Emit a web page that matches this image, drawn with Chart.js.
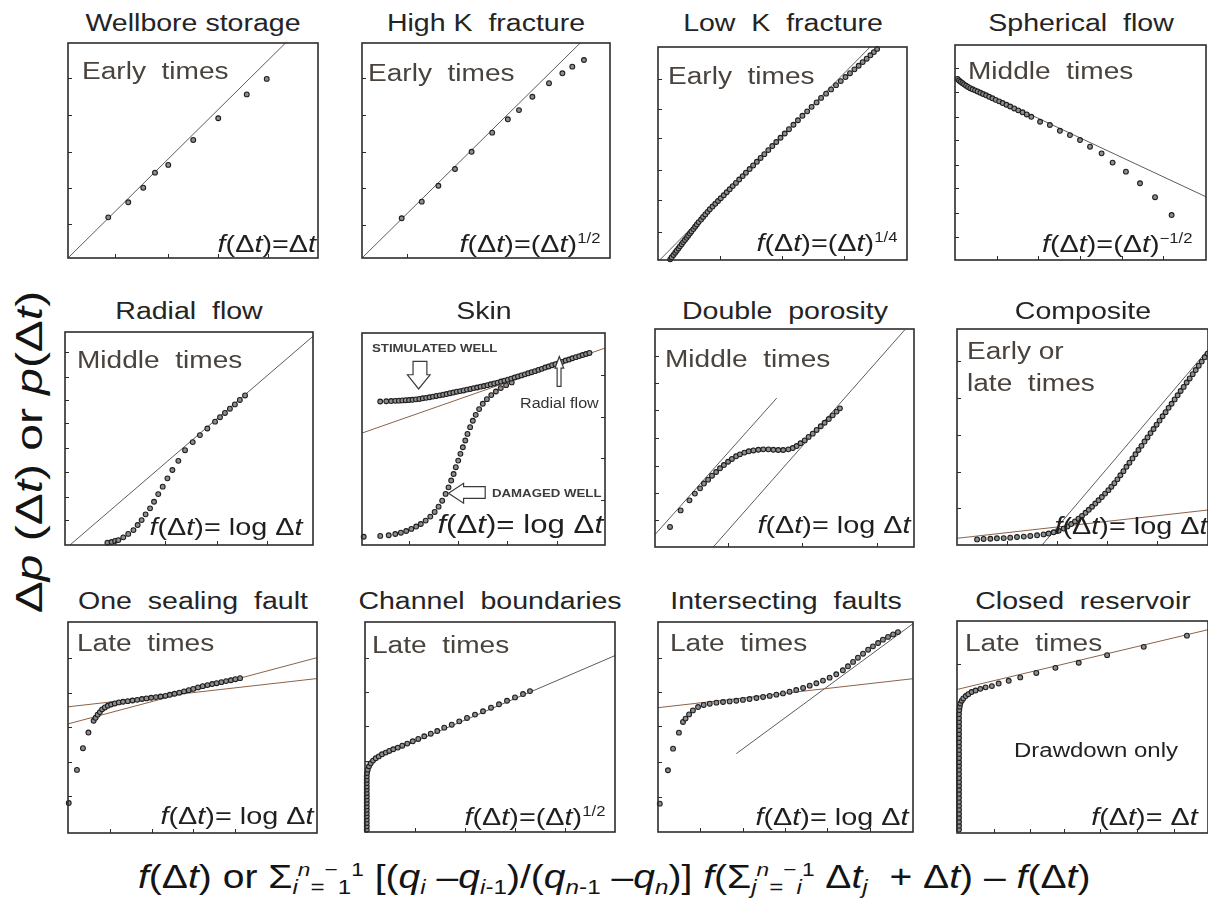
<!DOCTYPE html>
<html>
<head>
<meta charset="utf-8">
<title>Diagnostic plots of pressure transient flow regimes</title>
<script src="https://cdn.jsdelivr.net/npm/chart.js@4.4.1/dist/chart.umd.min.js"></script>
<style>
  html, body { margin: 0; padding: 0; background: #fff; }
  #fig { position: relative; width: 1208px; height: 903px; overflow: hidden; background: #fff;
         font-family: "Liberation Sans", Arial, Helvetica, sans-serif; }
  .plot { position: absolute; }
  .plot canvas { display: block; }
  .t { position: absolute; white-space: pre; line-height: 1; color: #262626; }
  .sup { font-size: .58em; position: relative; top: -.62em; }
  .sub { font-size: .62em; position: relative; top: .3em; }
</style>
</head>
<body>
<div id="fig"></div>
<script>
// All values are in percent of each small plot's axis range (0..100 on both axes).

// Wellbore storage, f(Δt)=Δt
const storagePts = [[16.1,18.9],[24.1,25.9],[30.1,32.7],[34.8,39.7],[40.1,43.3],[50.1,54.9],[60.1,65.0],[71.5,76.1],[79.5,83.3]];
const storageLine = [[0,0],[87,100]];
const storageTicksX = [18.8,40.1,60.1,80.1];
const storageTicksY = [15.8,32.7,49.4,66.5,83.6];

// High K fracture, f(Δt)=(Δt)^1/2
const highKPts = [[16.0,18.5],[24.1,26.2],[30.8,33.6],[37.5,41.4],[44.2,49.4],[52.5,58.3],[58.8,64.5],[63.3,68.8],[68.7,75.0],[75.4,81.3],[80.8,85.9],[84.8,89.0],[89.5,92.1]];
const highKLine = [[0,0],[88,100]];
const highKTicksX = [18.3];
const highKTicksY = [15.3,32.4,49.4,66.5,83.6];

// Low K fracture, f(Δt)=(Δt)^1/4
const lowKPts = [[4.9,0.3],[5.5,1.3],[6.2,2.4],[6.9,3.4],[7.5,4.4],[8.2,5.4],[8.8,6.4],[9.5,7.4],[10.1,8.4],[10.8,9.4],[11.5,10.4],[12.1,11.4],[12.8,12.4],[13.4,13.4],[14.2,14.5],[14.9,15.6],[15.6,16.7],[16.3,17.8],[17.3,19.0],[18.1,20.2],[19.0,21.4],[19.9,22.6],[20.8,23.8],[21.9,25.1],[23.0,26.4],[24.1,27.7],[25.2,29.0],[26.4,30.4],[27.6,31.8],[28.8,33.2],[30.0,34.7],[31.3,36.2],[32.6,37.8],[34.0,39.4],[35.3,41.0],[36.8,42.7],[38.2,44.4],[39.7,46.1],[41.2,47.9],[42.7,49.7],[44.3,51.6],[45.9,53.5],[47.5,55.4],[49.2,57.4],[50.9,59.4],[52.6,61.4],[54.4,63.5],[56.2,65.6],[58.0,67.7],[59.9,69.8],[61.7,71.9],[63.7,74.0],[65.5,76.1],[67.5,78.1],[69.5,80.1],[71.5,82.1],[73.4,84.0],[75.3,85.9],[77.1,87.7],[78.9,89.5],[80.6,91.2],[82.2,92.9],[83.8,94.5],[85.3,96.1],[86.7,97.6],[88.0,99.1]];
const lowKLine = [[0.7,0],[85.2,100]];
const lowKTicksX = [24.8,49.7,74.5];
const lowKTicksY = [13.3,28.1,42.2,57.1,71.1,85.2];

// Spherical flow, f(Δt)=(Δt)^-1/2
const sphericalPts = [[1.0,84.2],[1.6,83.5],[2.2,82.9],[2.9,82.3],[3.6,81.7],[4.4,81.1],[5.2,80.5],[6.1,79.9],[7.0,79.4],[8.0,78.9],[9.0,78.4],[10.1,77.8],[11.2,77.2],[12.4,76.6],[13.6,75.9],[14.9,75.2],[16.2,74.5],[17.6,73.8],[19.0,73.0],[20.5,72.2],[22.0,71.4],[23.6,70.5],[25.2,69.6],[26.9,68.7],[28.6,67.7],[30.4,66.6],[33.9,64.3],[37.8,62.8],[41.8,60.1],[45.8,58.1],[49.8,55.8],[53.8,52.7],[58.4,49.6],[62.8,45.3],[68.1,41.1],[73.7,35.7],[79.7,29.2],[86.3,20.9]];
const sphericalLine = [[0,84],[100,29.4]];
const sphericalTicksX = [16.6,33.2,49.8,66.4,83.0];
const sphericalTicksY = [10.8,21.7,33.3,44.2,55.8,66.7,78.3,89.2];

// Radial flow, f(Δt)=log Δt
const radialPts = [[17.1,1.1],[18.8,1.4],[20.2,1.9],[21.5,2.3],[23.5,3.6],[25.5,5.2],[27.6,7.0],[29.3,9.4],[30.9,11.7],[32.5,14.4],[34.3,17.2],[35.9,20.3],[37.6,23.9],[39.4,27.4],[41.3,31.3],[43.3,35.2],[45.7,39.5],[48.4,44.5],[51.5,48.3],[54.4,51.6],[57.4,54.7],[60.5,57.9],[62.5,60.0],[64.5,62.0],[66.5,64.0],[68.5,66.0],[70.5,68.1],[72.6,70.2]];
const radialLine = [[2,0],[100,98]];
const radialTicksX = [20.2,40.3,61.2,81.3];
const radialTicksY = [11.7,22.7,34.4,45.4,57.1,68.1,79.0,90.8];

// Skin: stimulated and damaged wells, f(Δt)=log Δt
const stimulatedPts = [[7.5,67.7],[10.0,67.8],[12.0,67.9],[13.7,68.0],[15.2,68.1],[16.6,68.2],[18.0,68.3],[19.4,68.4],[20.8,68.5],[22.2,68.7],[23.6,68.9],[25.0,69.2],[26.4,69.4],[27.8,69.7],[29.2,70.0],[30.6,70.3],[32.0,70.6],[33.4,70.9],[34.8,71.2],[36.2,71.6],[37.6,71.9],[39.0,72.3],[40.4,72.6],[41.8,72.9],[43.2,73.3],[44.6,73.6],[46.0,74.0],[47.4,74.3],[48.8,74.7],[50.2,75.0],[51.6,75.4],[53.0,75.8],[54.4,76.2],[55.8,76.6],[57.2,77.1],[58.6,77.5],[60.0,78.0],[61.4,78.5],[62.8,79.0],[64.2,79.5],[65.6,80.0],[67.0,80.5],[68.4,81.0],[69.8,81.5],[71.2,82.0],[72.6,82.6],[74.0,83.1],[75.4,83.7],[76.8,84.2],[78.2,84.8],[79.6,85.3],[81.0,85.9],[82.4,86.4],[83.8,87.0],[85.2,87.5],[86.6,88.1],[88.0,88.6],[89.4,89.1],[90.8,89.6],[92.2,90.1],[93.6,90.6]];
const damagedPts = [[0.7,3.9],[7.5,4.3],[11.0,4.6],[13.7,5.2],[16.0,5.8],[18.2,6.6],[20.3,7.6],[22.3,8.7],[24.2,9.9],[26.2,11.5],[28.1,13.4],[29.9,15.6],[31.5,18.1],[33.0,20.9],[34.4,24.1],[35.6,27.2],[36.7,30.4],[37.7,33.5],[38.6,36.7],[39.6,39.8],[40.5,43.0],[41.5,46.1],[42.5,49.3],[43.4,52.4],[44.5,55.6],[45.6,58.6],[46.8,61.4],[48.2,64.1],[49.7,66.6],[51.4,68.8],[53.2,70.7],[55.1,72.4],[57.1,74.0],[59.3,75.4],[61.6,76.7]];
const skinLine = [[0,52.8],[100,92.9]];
const skinTicksX = [19.2,39.7,59.6,80.1];
const skinTicksY = [21.3,41.0,60.6,80.3];

// Double porosity, f(Δt)=log Δt
const dualPts = [[5.8,9.2],[9.9,16.8],[13.3,21.4],[15.4,24.5],[17.4,26.9],[18.9,29.1],[20.5,30.9],[22.0,32.7],[23.6,34.4],[25.1,36.1],[26.6,37.6],[28.2,39.1],[29.7,40.4],[31.3,41.6],[32.8,42.5],[34.5,43.3],[36.2,43.9],[38.0,44.3],[39.9,44.6],[41.8,44.8],[43.8,44.8],[45.7,44.6],[47.6,44.5],[49.5,44.5],[51.5,44.8],[53.2,45.4],[54.7,46.3],[56.2,47.6],[57.8,48.9],[59.3,50.5],[60.9,52.0],[62.4,53.7],[64.0,55.4],[65.5,57.0],[67.1,58.7],[68.6,60.4],[70.1,62.1],[71.4,63.6]];
const dualLineEarly = [[0,5.7],[47.0,68.3]];
const dualLineLate = [[22.5,0],[96.5,99.7]];
const dualTicksX = [28.3,56.6,85.6];
const dualTicksY = [12.5,24.9,37.3,49.9,62.8,75.1,87.4];

// Composite reservoir, f(Δt)=log Δt
const compositePts = [[8.0,2.6],[10.6,2.8],[13.3,2.9],[15.9,3.1],[18.6,3.2],[21.2,3.4],[23.9,3.7],[26.6,3.9],[29.2,4.2],[31.9,4.5],[34.5,4.9],[36.5,5.3],[38.5,5.9],[40.5,6.6],[42.5,7.6],[44.0,8.6],[45.5,9.7],[47.0,10.9],[48.4,12.2],[49.8,13.5],[51.2,14.9],[52.5,16.3],[53.8,17.7],[55.1,19.2],[56.4,20.7],[57.7,22.2],[59.0,23.8],[60.3,25.4],[61.5,27.0],[62.7,28.6],[63.9,30.4],[65.1,32.3],[66.3,34.2],[67.5,36.2],[68.7,38.1],[69.9,40.1],[71.1,42.0],[72.3,44.0],[73.5,45.9],[74.7,47.9],[75.9,49.8],[77.1,51.8],[78.3,53.7],[79.5,55.7],[80.7,57.6],[81.9,59.6],[83.1,61.5],[84.3,63.5],[85.5,65.4],[86.7,67.4],[87.9,69.3],[89.1,71.3],[90.3,73.2],[91.5,75.2],[92.7,77.1],[93.9,79.1],[95.1,81.0],[96.3,83.0],[97.5,84.9],[98.7,86.9],[99.8,88.6]];
const compositeLineInner = [[0,3.1],[100,16.2]];
const compositeLineOuter = [[33.9,0],[100,90.4]];
const compositeTicksX = [19.9,39.8,59.8,79.7];
const compositeTicksY = [17,34,51,68,85];

// One sealing fault, f(Δt)=log Δt
const faultPts = [[0.3,14.2],[3.6,29.9],[6.0,40.2],[8.2,47.6],[10.3,53.2],[11.1,54.6],[11.9,56.1],[12.8,57.3],[13.7,58.6],[14.8,59.5],[16.0,60.3],[17.3,60.9],[18.8,61.4],[20.4,61.9],[22.1,62.2],[24.0,62.5],[25.9,62.8],[27.8,63.1],[29.7,63.5],[31.5,63.8],[33.4,64.1],[35.3,64.4],[37.2,64.7],[39.1,65.0],[40.9,65.5],[42.8,66.0],[44.7,66.5],[46.6,67.1],[48.5,67.7],[50.3,68.3],[52.2,69.0],[54.1,69.6],[56.0,70.1],[57.9,70.6],[59.7,71.0],[61.6,71.5],[63.5,72.0],[65.4,72.4],[67.2,72.9],[69.1,73.4]];
const faultLineA = [[0,59.8],[100,73.2]];
const faultLineB = [[0,51.7],[100,83.1]];
const faultTicksX = [16.8,33.6,50.3,67.1];
const faultTicksY = [17.3,33.5,50.4,66.5,83.1];

// Channel boundaries, f(Δt)=(Δt)^1/2
const channelPts = [[0.7,1.1],[0.7,2.7],[0.7,4.3],[0.7,5.9],[0.7,7.5],[0.7,9.0],[0.7,10.6],[0.7,12.2],[0.7,13.8],[0.7,15.4],[0.7,17.0],[0.7,18.6],[0.7,20.2],[0.7,21.7],[0.7,23.3],[0.7,24.9],[0.7,26.5],[0.8,28.1],[1.1,29.7],[1.6,31.3],[2.3,32.7],[3.2,34.0],[4.3,35.1],[5.5,36.0],[6.8,37.0],[8.3,37.8],[9.7,38.6],[11.3,39.4],[13.1,40.2],[14.9,41.1],[16.9,42.1],[19.1,43.2],[21.3,44.3],[23.7,45.6],[26.3,46.8],[28.9,48.1],[31.7,49.7],[34.7,51.1],[37.7,52.7],[40.8,54.3],[44.0,55.9],[47.2,57.5],[50.4,59.2],[53.6,60.8],[56.8,62.5],[60.0,64.1],[63.2,65.7],[66.0,67.1]];
const channelLine = [[0.7,33.2],[100,84.0]];
const channelTicksX = [20,40,60,80];
const channelTicksY = [33.8,50.3,66.7,83.0];

// Intersecting faults, f(Δt)=log Δt
const interPts = [[0.7,13.5],[3.9,29.4],[5.9,39.7],[8.2,47.3],[9.8,52.4],[10.8,54.0],[12.2,56.0],[13.7,57.9],[15.7,59.5],[17.9,60.5],[20.3,61.1],[22.9,61.6],[25.5,61.9],[28.1,62.2],[30.7,62.5],[33.3,62.9],[35.9,63.3],[38.6,63.8],[41.2,64.3],[43.8,64.8],[46.4,65.4],[49.0,66.0],[51.6,66.8],[54.2,67.6],[56.9,68.6],[59.5,69.7],[62.1,70.8],[64.7,72.1],[67.3,73.5],[69.9,75.1],[72.5,77.0],[74.5,78.9],[76.5,81.0],[78.4,83.0],[80.4,84.9],[82.4,86.8],[84.3,88.4],[86.3,90.0],[88.2,91.6],[90.2,92.9],[92.2,94.1],[94.1,95.2]];
const interLineA = [[0,59.2],[100,73.0]];
const interLineB = [[30.7,37.3],[100,99.2]];
const interTicksX = [16.4,33.4,49.7,66.1,83.0];
const interTicksY = [16.7,33.3,50.5,66.7,83.0];

// Closed reservoir (drawdown only), f(Δt)=Δt
const closedPts = [[0.8,1.6],[0.8,3.4],[0.8,5.3],[0.8,7.2],[0.8,9.1],[0.8,11.0],[0.8,12.9],[0.8,14.7],[0.8,16.6],[0.8,18.5],[0.8,20.4],[0.8,22.3],[0.8,24.1],[0.8,26.0],[0.8,27.9],[0.8,29.8],[0.8,31.7],[0.8,33.5],[0.8,35.4],[0.8,37.3],[0.8,39.2],[0.8,41.1],[0.8,42.9],[0.8,44.8],[0.8,46.7],[0.8,48.6],[0.8,50.5],[0.8,52.4],[0.8,54.2],[0.8,56.1],[0.9,58.0],[1.1,59.6],[1.3,61.1],[1.9,62.4],[2.5,63.5],[3.5,64.6],[4.5,65.5],[5.8,66.5],[7.4,67.2],[9.3,68.0],[11.4,68.7],[13.9,69.3],[16.6,70.5],[20.6,71.8],[25.2,73.4],[31.6,75.5],[39.2,77.9],[48.5,80.3],[59.8,83.9],[74.4,87.8],[91.6,93.1]];
const closedLine = [[0,67.7],[100,95.9]];
const closedTicksX = [14.6,29.2,42.5,57.1,71.7,86.3];
const closedTicksY = [79.6];

// ---------------------------------------------------------------------------
const FIG_W = 1208;
const GRAY = '#5c5c5c', BROWN = '#8d6247';
const F_EQ = '<i>f</i>(Δ<i>t</i>)=';
const LOG_EQ = '<i>f</i>(Δ<i>t</i>)= log Δ<i>t</i>';
const sup = s => `<span class="sup">${s}</span>`;
const sub = s => `<span class="sub">${s}</span>`;

const panels = [
  { title: 'Wellbore storage', box: [68, 43, 250, 215], note: ['Early  times'], noteAt: [14, 20],
    eq: F_EQ + 'Δ<i>t</i>', eqAt: [1.5, 6], pts: [storagePts], lines: [[storageLine, GRAY]],
    tx: storageTicksX, ty: storageTicksY },
  { title: 'High K  fracture', box: [362, 43, 248, 215], note: ['Early  times'], noteAt: [6, 22],
    eq: F_EQ + '(Δ<i>t</i>)' + sup('1/2'), eqAt: [10, 6], pts: [highKPts], lines: [[highKLine, GRAY]],
    tx: highKTicksX, ty: highKTicksY },
  { title: 'Low  K  fracture', box: [658, 47, 249, 213], note: ['Early  times'], noteAt: [10, 21],
    eq: F_EQ + '(Δ<i>t</i>)' + sup('1/4'), eqAt: [10, 9], pts: [lowKPts], lines: [[lowKLine, GRAY]],
    tx: lowKTicksX, ty: lowKTicksY },
  { title: 'Spherical  flow', box: [955, 45, 251, 215], note: ['Middle  times'], noteAt: [13, 18],
    eq: F_EQ + '(Δ<i>t</i>)' + sup('−1/2'), eqAt: [13, 8], pts: [sphericalPts], lines: [[sphericalLine, GRAY]],
    tx: sphericalTicksX, ty: sphericalTicksY },
  { title: 'Radial  flow', box: [65, 332, 248, 213], note: ['Middle  times'], noteAt: [12, 20],
    eq: LOG_EQ, eqAt: [11, 10], pts: [radialPts], lines: [[radialLine, GRAY]],
    tx: radialTicksX, ty: radialTicksY },
  { title: 'Skin', box: [362, 333, 243, 212], note: [], noteAt: [0, 0],
    eq: LOG_EQ, eqAt: [2, 12], eqSize: 26, pts: [stimulatedPts, damagedPts], lines: [[skinLine, BROWN]],
    tx: skinTicksX, ty: skinTicksY, tickRight: true, skin: true },
  { title: 'Double  porosity', box: [655, 329, 259, 218], note: ['Middle  times'], noteAt: [10, 22],
    eq: LOG_EQ, eqAt: [4, 14], pts: [dualPts], lines: [[dualLineEarly, GRAY], [dualLineLate, GRAY]],
    tx: dualTicksX, ty: dualTicksY },
  { title: 'Composite', box: [957, 329, 251, 216], note: ['Early or', 'late  times'], noteAt: [10, 14],
    eq: LOG_EQ, eqAt: [1, 11], pts: [compositePts], lines: [[compositeLineInner, BROWN], [compositeLineOuter, GRAY]],
    tx: compositeTicksX, ty: compositeTicksY },
  { title: 'One  sealing  fault', box: [68, 622, 249, 211], note: ['Late  times'], noteAt: [9, 13],
    eq: LOG_EQ, eqAt: [4, 9], pts: [faultPts], lines: [[faultLineA, BROWN], [faultLineB, BROWN]],
    tx: faultTicksX, ty: faultTicksY },
  { title: 'Channel  boundaries', box: [365, 622, 250, 210], note: ['Late  times'], noteAt: [7, 15],
    eq: F_EQ + '(Δ<i>t</i>)' + sup('1/2'), eqAt: [10, 7], pts: [channelPts], lines: [[channelLine, GRAY]],
    tx: channelTicksX, ty: channelTicksY },
  { title: 'Intersecting  faults', box: [658, 622, 255, 210], note: ['Late  times'], noteAt: [12, 13],
    eq: LOG_EQ, eqAt: [5, 7], pts: [interPts], lines: [[interLineA, BROWN], [interLineB, GRAY]],
    tx: interTicksX, ty: interTicksY },
  { title: 'Closed  reservoir', box: [957, 621, 251, 212], note: ['Late  times'], noteAt: [8, 14],
    eq: '<i>f</i>(Δ<i>t</i>)= Δ<i>t</i>', eqAt: [10, 8], pts: [closedPts], lines: [[closedLine, BROWN]],
    tx: closedTicksX, ty: closedTicksY, closed: true }
];

// Hollow block arrows of the skin plot, in the same percent units as the data
const skinArrows = [
  [[21.0,86.6],[26.7,86.6],[26.7,80.3],[28.0,80.3],[23.3,73.6],[18.7,80.3],[21.0,80.3]],
  [[81.2,88.9],[83.0,83.4],[81.9,83.4],[81.9,74.8],[80.3,74.8],[80.3,83.4],[79.4,83.4]],
  [[35.6,24.4],[41.8,29.1],[41.8,27.5],[50.7,27.5],[50.7,22.0],[41.8,22.0],[41.8,19.7]]
];

const fig = document.getElementById('fig');

function addText(html, o) {
  const el = document.createElement('div');
  el.className = 't';
  el.innerHTML = html;
  el.style.fontSize = o.size + 'px';
  if (o.color) el.style.color = o.color;
  if (o.bold) el.style.fontWeight = 'bold';
  const sx = o.scale || 1;
  el.style.top = (o.baseline - 0.85 * o.size) + 'px';
  if (o.align === 'center') {
    el.style.left = o.x + 'px';
    el.style.transformOrigin = '50% 50%';
    el.style.transform = `translateX(-50%) scaleX(${sx})`;
  } else if (o.align === 'right') {
    el.style.right = (FIG_W - o.x) + 'px';
    el.style.transformOrigin = '100% 50%';
    el.style.transform = `scaleX(${sx})`;
  } else {
    el.style.left = o.x + 'px';
    el.style.transformOrigin = '0 50%';
    el.style.transform = `scaleX(${sx})`;
  }
  fig.appendChild(el);
  return el;
}

const asXY = pts => pts.map(([x, y]) => ({ x, y }));

function makePanel(p, idx) {
  const [L, T, W, H] = p.box;
  const pad = 4;
  const wrap = document.createElement('div');
  wrap.className = 'plot';
  wrap.style.left = (L - pad) + 'px';
  wrap.style.top = (T - pad) + 'px';
  const cv = document.createElement('canvas');
  cv.width = W + 2 * pad;
  cv.height = H + 2 * pad;
  wrap.appendChild(cv);
  fig.appendChild(wrap);

  const datasets = [];
  p.pts.forEach(pts => datasets.push({
    data: asXY(pts), showLine: false, order: 0, clip: 3,
    pointRadius: 2.4, pointHoverRadius: 2.4, pointBorderWidth: 1.1,
    pointBorderColor: '#1e1e1e', pointBackgroundColor: '#8e8e8e'
  }));
  p.lines.forEach(([pts, color]) => datasets.push({
    data: asXY(pts), showLine: true, order: 1, clip: 0, tension: 0,
    borderColor: color, borderWidth: 1, pointRadius: 0, pointHoverRadius: 0
  }));

  const frame = {
    id: 'frame' + idx,
    afterDatasetsDraw(chart) {
      const { ctx, chartArea: a, scales: { x, y } } = chart;
      ctx.save();
      ctx.strokeStyle = '#2c2c2c';
      ctx.lineWidth = 1.6;
      ctx.strokeRect(a.left, a.top, a.width, a.height);
      ctx.lineWidth = 1;
      ctx.beginPath();
      p.ty.forEach(v => {
        const py = Math.round(y.getPixelForValue(v)) + 0.5;
        if (p.tickRight) { ctx.moveTo(a.right, py); ctx.lineTo(a.right - 4, py); }
        else { ctx.moveTo(a.left, py); ctx.lineTo(a.left + 4, py); }
      });
      p.tx.forEach(v => {
        const px = Math.round(x.getPixelForValue(v)) + 0.5;
        ctx.moveTo(px, a.bottom); ctx.lineTo(px, a.bottom - 4);
      });
      ctx.stroke();
      if (p.skin) {
        ctx.lineWidth = 1.2;
        ctx.strokeStyle = '#3a3a3a';
        ctx.fillStyle = '#ffffff';
        skinArrows.forEach(poly => {
          ctx.beginPath();
          poly.forEach(([vx, vy], i) => {
            const px = x.getPixelForValue(vx), py = y.getPixelForValue(vy);
            i ? ctx.lineTo(px, py) : ctx.moveTo(px, py);
          });
          ctx.closePath();
          ctx.fill();
          ctx.stroke();
        });
      }
      ctx.restore();
    }
  };

  new Chart(cv, {
    type: 'scatter',
    data: { datasets },
    options: {
      responsive: false,
      animation: false,
      events: [],
      layout: { padding: pad },
      plugins: { legend: { display: false }, tooltip: { enabled: false } },
      scales: {
        x: { type: 'linear', min: 0, max: 100, display: false },
        y: { type: 'linear', min: 0, max: 100, display: false }
      }
    },
    plugins: [frame]
  });

  // title above the frame
  const rowBase = T < 100 ? 31.7 : (T < 400 ? 320 : 610);
  addText(p.title, { size: 23, x: L + W / 2, baseline: rowBase, align: 'center', scale: 1.24, color: '#242424' });

  // regime note in the upper-left corner
  p.note.forEach((line, i) => {
    addText(line, { size: 23, x: L + p.noteAt[0], baseline: T + p.noteAt[1] + 16.5 + i * 32,
                    scale: 1.22, color: '#4a433d' });
  });

  // time function in the lower-right corner
  const es = p.eqSize || 24;
  addText(p.eq, { size: es, x: L + W - p.eqAt[0], baseline: T + H - p.eqAt[1], align: 'right',
                  scale: 1.2, color: '#1f1f1f' });

  if (p.skin) {
    addText('STIMULATED WELL', { size: 11.5, x: 371.7, baseline: 352.7, scale: 1.15, bold: true, color: '#3c3c3c' });
    addText('Radial flow', { size: 14, x: 520, baseline: 408.3, scale: 1.15, color: '#333' });
    addText('DAMAGED WELL', { size: 11.5, x: 491.7, baseline: 497.3, scale: 1.15, bold: true, color: '#3c3c3c' });
  }
  if (p.closed) {
    addText('Drawdown only', { size: 20, x: 1096, baseline: 757, align: 'center', scale: 1.2, color: '#222' });
  }
}

panels.forEach(makePanel);

// shared axis titles
const yLab = document.createElement('div');
yLab.className = 't';
yLab.style.fontSize = '36px';
yLab.style.color = '#141414';
yLab.innerHTML = 'Δ<i>p</i> (Δ<i>t</i>) or <i>p</i>(Δ<i>t</i>)';
fig.appendChild(yLab);
{
  const w = yLab.offsetWidth, h = yLab.offsetHeight;
  const s = 322 / w;
  yLab.style.left = (30 - w / 2) + 'px';
  yLab.style.top = (452 - h / 2) + 'px';
  yLab.style.transformOrigin = '50% 50%';
  yLab.style.transform = `rotate(-90deg) scaleX(${s})`;
}

const xLab = document.createElement('div');
xLab.className = 't';
xLab.style.fontSize = '33px';
xLab.style.color = '#141414';
xLab.innerHTML =
  '<i>f</i>(Δ<i>t</i>) or Σ' + sub('<i>i</i>') + sup('<i>n</i>') + sub('=') + sup('−') + sub('1') + sup('1') +
  ' [(<i>q</i>' + sub('<i>i</i>') + ' –<i>q</i>' + sub('<i>i</i>-1') + ')/(<i>q</i>' + sub('<i>n</i>-1') +
  ' –<i>q</i>' + sub('<i>n</i>') + ')] <i>f</i>(Σ' + sub('<i>j</i>') + sup('<i>n</i>') + sub('=') + sup('−') +
  sub('<i>i</i>') + sup('1') + ' Δ<i>t</i>' + sub('<i>j</i>') + '  + Δ<i>t</i>) – <i>f</i>(Δ<i>t</i>)';
fig.appendChild(xLab);
{
  const w = xLab.offsetWidth;
  const s = 952 / w;
  xLab.style.left = (614 - w / 2) + 'px';
  xLab.style.top = (888 - 0.85 * 33) + 'px';
  xLab.style.transformOrigin = '50% 50%';
  xLab.style.transform = `scaleX(${s})`;
}
</script>
</body>
</html>
